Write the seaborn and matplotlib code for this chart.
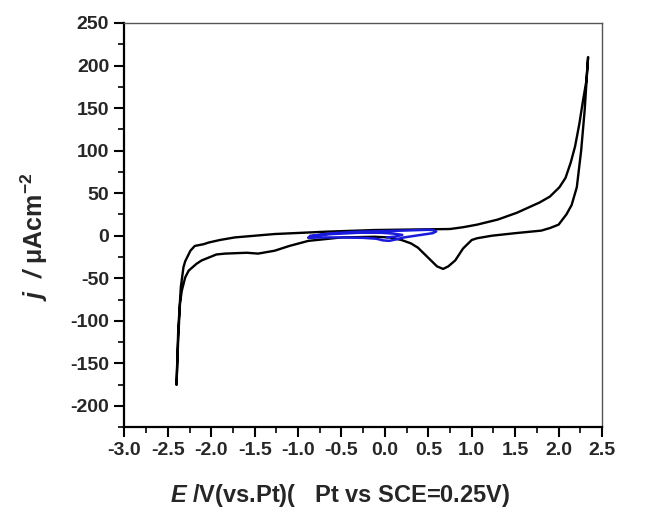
import matplotlib
matplotlib.use("Agg")
import matplotlib.pyplot as plt
import seaborn as sns
import pandas as pd
from matplotlib.ticker import MultipleLocator

# CV 数据：黑色为宽电位窗口，蓝色为小窗口
e_black = [-2.40, -2.38, -2.36, -2.34, -2.30, -2.26, -2.17, -2.11, -1.94, -1.84,
           -1.59, -1.46, -1.27, -1.10, -0.88, -0.50, -0.12, 0.05, 0.19, 0.30,
           0.38, 0.46, 0.54, 0.60, 0.67, 0.73, 0.81, 0.90, 1.00, 1.06,
           1.23, 1.50, 1.80, 1.90, 2.00, 2.09, 2.15, 2.21, 2.26, 2.30, 2.34,
           2.32, 2.28, 2.24, 2.19, 2.14, 2.08, 2.01, 1.90, 1.78, 1.52, 1.30,
           1.06, 0.90, 0.75, 0.46, -0.12, -0.69, -1.27, -1.73, -1.90, -2.03,
           -2.09, -2.19, -2.24, -2.30, -2.32, -2.35, -2.38, -2.40]
j_black = [-175, -120, -80, -65, -49, -41, -33, -29, -22, -21,
           -20, -21, -17.6, -12, -6, -2, -1.2, -2, -5, -9,
           -14, -22, -30, -36, -39, -36, -29, -15, -5, -3,
           0, 3, 6, 9, 13, 25, 36, 57, 100, 147, 210,
           182, 158, 132, 105, 86, 68, 57, 46, 39, 27, 19,
           13, 10, 7.9, 7.5, 6.7, 4.7, 2, -2, -5, -8,
           -10, -12, -17.6, -30, -37, -60, -110, -175]

e_blue = [-0.88, -0.80, -0.60, -0.30, 0.00, 0.20, 0.35, 0.50, 0.56, 0.59,
          0.55, 0.45, 0.35, 0.22, 0.12, 0.05, -0.02, -0.10, -0.25, -0.50,
          -0.75, -0.88, -0.86, -0.60, -0.30, -0.05, 0.10, 0.20, 0.12, 0.02]
j_blue = [-2.0, 0.5, 3.0, 4.8, 5.5, 6.0, 6.5, 7.0, 6.5, 5.0,
          3.0, 1.5, 0.0, -2.0, -4.5, -6.0, -5.5, -3.5, -2.5, -2.0,
          -2.0, -2.5, 0.0, 2.0, 3.5, 3.5, 2.5, 1.0, -1.0, -2.0]

df_black = pd.DataFrame({'E': e_black, 'j': j_black})
df_blue = pd.DataFrame({'E': e_blue, 'j': j_blue})

sns.set_theme(style="ticks")
plt.rcParams['font.family'] = ['Liberation Sans', 'DejaVu Sans']
plt.rcParams['mathtext.fontset'] = 'custom'
plt.rcParams['mathtext.rm'] = 'Liberation Sans'
plt.rcParams['mathtext.bf'] = 'Liberation Sans:bold'
plt.rcParams['mathtext.it'] = 'Liberation Sans:italic'
plt.rcParams['mathtext.bfit'] = 'Liberation Sans:bold:italic'

fig = plt.figure(figsize=(6.48, 5.11), dpi=100)
ax = fig.add_axes([0.192, 0.164, 0.737, 0.791])

sns.lineplot(data=df_black, x='E', y='j', sort=False, estimator=None,
             color='black', linewidth=1.7, ax=ax)
sns.lineplot(data=df_blue, x='E', y='j', sort=False, estimator=None,
             color='#1a1adc', linewidth=1.8, ax=ax)

ax.set_xlim(-3.0, 2.5)
ax.set_ylim(-225, 250)
ax.xaxis.set_minor_locator(MultipleLocator(0.25))
ax.yaxis.set_minor_locator(MultipleLocator(25))
ax.set_xticks([-3.0, -2.5, -2.0, -1.5, -1.0, -0.5, 0.0, 0.5, 1.0, 1.5, 2.0, 2.5])
ax.set_xticklabels(['-3.0', '-2.5', '-2.0', '-1.5', '-1.0', '-0.5', '0.0',
                    '0.5', '1.0', '1.5', '2.0', '2.5'])
ax.set_yticks([-200, -150, -100, -50, 0, 50, 100, 150, 200, 250])
ax.set_yticklabels(['-200', '-150', '-100', '-50', '0', '50', '100', '150', '200', '250'])

ax.tick_params(which='major', direction='out', length=7, width=1.5, labelsize=14,
               pad=4, color='black')
ax.tick_params(which='minor', direction='out', length=4, width=1.2, color='black')
for lab in ax.get_xticklabels() + ax.get_yticklabels():
    lab.set_fontweight('bold')

for side in ['left', 'bottom']:
    ax.spines[side].set_linewidth(1.6)
    ax.spines[side].set_color('black')
for side in ['top', 'right']:
    ax.spines[side].set_visible(True)
    ax.spines[side].set_linewidth(1.0)
    ax.spines[side].set_color('#555555')

ax.set_xlabel(r'$\mathbfit{E}$ /V(vs.Pt)(   Pt vs SCE=0.25V)', fontsize=17,
              fontweight='bold')
ax.xaxis.set_label_coords(0.452, -0.135)
ax.set_ylabel(r'$\mathbfit{j}$  $\mathbfit{/}$ μAcm$^{\mathbf{-2}}$', fontsize=18,
              fontweight='bold')
ax.yaxis.set_label_coords(-0.155, 0.47)

fig.savefig('out.png', dpi=100)
